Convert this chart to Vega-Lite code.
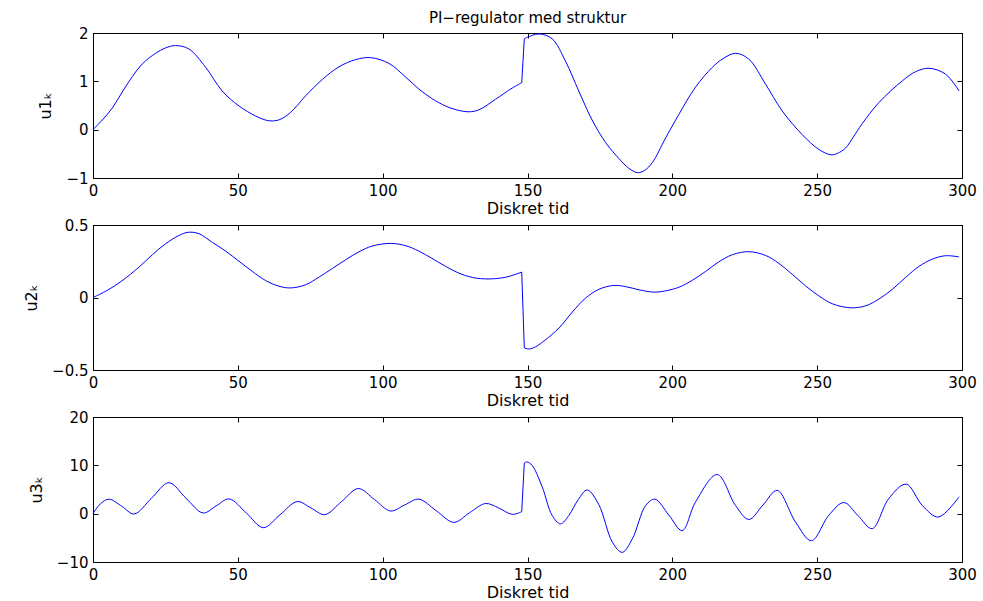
{
  "$schema": "https://vega.github.io/schema/vega-lite/v6.json",
  "background": "white",
  "padding": {"left": 23, "top": 10, "right": 5, "bottom": 0},
  "bounds": "flush",
  "spacing": 47,
  "config": {
    "font": "DejaVu Sans",
    "view": {"stroke": "black", "strokeWidth": 1},
    "axis": {
      "grid": false, "domain": false, "ticks": true, "tickColor": "black", "tickSize": -5, "tickWidth": 1,
      "labelPadding": 10, "labelFontSize": 15, "labelColor": "black", "labelFlush": false, "labelOverlap": false,
      "titleFontSize": 16, "titleFontWeight": "normal", "titleColor": "black"
    }
  },
  "datasets": {
    "u1": [
      {"s":1,"t":0,"v":0},{"s":1,"t":3.2,"v":0.2},{"s":1,"t":6.7,"v":0.45},{"s":1,"t":10.1,"v":0.78},{"s":1,"t":13.6,"v":1.1},{"s":1,"t":17,"v":1.36},{"s":1,"t":21.6,"v":1.58},{"s":1,"t":25,"v":1.69},{"s":1,"t":28.5,"v":1.74},{"s":1,"t":33.1,"v":1.67},{"s":1,"t":38.9,"v":1.29},{"s":1,"t":44.6,"v":0.8},{"s":1,"t":50.4,"v":0.49},{"s":1,"t":56.2,"v":0.28},{"s":1,"t":59.5,"v":0.2},{"s":1,"t":61.9,"v":0.18},{"s":1,"t":64.5,"v":0.21},{"s":1,"t":67.7,"v":0.33},{"s":1,"t":70.5,"v":0.5},{"s":1,"t":73.4,"v":0.7},{"s":1,"t":79.2,"v":1.04},{"s":1,"t":84.9,"v":1.3},{"s":1,"t":90.7,"v":1.45},{"s":1,"t":95.9,"v":1.49},{"s":1,"t":102.2,"v":1.37},{"s":1,"t":107.9,"v":1.09},{"s":1,"t":112.5,"v":0.84},{"s":1,"t":117.1,"v":0.64},{"s":1,"t":121.7,"v":0.49},{"s":1,"t":125.5,"v":0.41},{"s":1,"t":129.8,"v":0.37},{"s":1,"t":133.2,"v":0.41},{"s":1,"t":139,"v":0.63},{"s":1,"t":144.7,"v":0.86},{"s":1,"t":148,"v":0.97},
      {"s":2,"t":148,"v":0.97},{"s":2,"t":148.9,"v":1.88},
      {"s":3,"t":148.9,"v":1.88},{"s":3,"t":149.9,"v":1.91},{"s":3,"t":154,"v":1.98},{"s":3,"t":158.5,"v":1.88},{"s":3,"t":163.1,"v":1.42},{"s":3,"t":167.7,"v":0.8},{"s":3,"t":172.3,"v":0.2},{"s":3,"t":177,"v":-0.27},{"s":3,"t":181.6,"v":-0.6},{"s":3,"t":185,"v":-0.8},{"s":3,"t":188,"v":-0.89},{"s":3,"t":190.5,"v":-0.84},{"s":3,"t":193.1,"v":-0.68},{"s":3,"t":197.7,"v":-0.17},{"s":3,"t":202.3,"v":0.32},{"s":3,"t":208,"v":0.88},{"s":3,"t":213.8,"v":1.29},{"s":3,"t":217.5,"v":1.47},{"s":3,"t":221.8,"v":1.58},{"s":3,"t":226.4,"v":1.46},{"s":3,"t":232.2,"v":0.94},{"s":3,"t":237.9,"v":0.39},{"s":3,"t":244.8,"v":-0.1},{"s":3,"t":250.6,"v":-0.41},{"s":3,"t":254.8,"v":-0.52},{"s":3,"t":257,"v":-0.49},{"s":3,"t":259.8,"v":-0.38},{"s":3,"t":262.5,"v":-0.15},{"s":3,"t":265.5,"v":0.12},{"s":3,"t":271.3,"v":0.56},{"s":3,"t":279.4,"v":1.01},{"s":3,"t":284,"v":1.2},{"s":3,"t":288.6,"v":1.27},{"s":3,"t":294.3,"v":1.15},{"s":3,"t":299,"v":0.8}
    ],
    "u2": [
      {"s":1,"t":0,"v":0},{"s":1,"t":5,"v":0.05},{"s":1,"t":10,"v":0.115},{"s":1,"t":15.9,"v":0.21},{"s":1,"t":20.5,"v":0.295},{"s":1,"t":25,"v":0.37},{"s":1,"t":29.7,"v":0.428},{"s":1,"t":32.9,"v":0.45},{"s":1,"t":36.6,"v":0.44},{"s":1,"t":41.2,"v":0.38},{"s":1,"t":45.8,"v":0.32},{"s":1,"t":50.4,"v":0.25},{"s":1,"t":55,"v":0.18},{"s":1,"t":59.6,"v":0.117},{"s":1,"t":64.2,"v":0.078},{"s":1,"t":68.2,"v":0.066},{"s":1,"t":73.4,"v":0.088},{"s":1,"t":78,"v":0.14},{"s":1,"t":82.6,"v":0.2},{"s":1,"t":87.2,"v":0.26},{"s":1,"t":91.8,"v":0.315},{"s":1,"t":96.4,"v":0.355},{"s":1,"t":102.8,"v":0.373},{"s":1,"t":108,"v":0.357},{"s":1,"t":112.5,"v":0.32},{"s":1,"t":117,"v":0.27},{"s":1,"t":121.7,"v":0.215},{"s":1,"t":126.3,"v":0.168},{"s":1,"t":131,"v":0.138},{"s":1,"t":136.7,"v":0.128},{"s":1,"t":142.5,"v":0.14},{"s":1,"t":148,"v":0.175},
      {"s":2,"t":148,"v":0.175},{"s":2,"t":148.9,"v":-0.348},
      {"s":3,"t":148.9,"v":-0.348},{"s":3,"t":150.5,"v":-0.355},{"s":3,"t":152.8,"v":-0.34},{"s":3,"t":156,"v":-0.295},{"s":3,"t":160.9,"v":-0.21},{"s":3,"t":165.5,"v":-0.1},{"s":3,"t":170,"v":-0.005},{"s":3,"t":174.7,"v":0.057},{"s":3,"t":179.8,"v":0.083},{"s":3,"t":183.9,"v":0.075},{"s":3,"t":188.5,"v":0.053},{"s":3,"t":193.7,"v":0.037},{"s":3,"t":197.7,"v":0.046},{"s":3,"t":202.3,"v":0.071},{"s":3,"t":207,"v":0.12},{"s":3,"t":211.5,"v":0.18},{"s":3,"t":216,"v":0.245},{"s":3,"t":220.7,"v":0.295},{"s":3,"t":226.4,"v":0.316},{"s":3,"t":232.2,"v":0.29},{"s":3,"t":236.8,"v":0.235},{"s":3,"t":241.4,"v":0.16},{"s":3,"t":246,"v":0.08},{"s":3,"t":250.6,"v":0.011},{"s":3,"t":255.2,"v":-0.043},{"s":3,"t":261.6,"v":-0.071},{"s":3,"t":266.8,"v":-0.057},{"s":3,"t":271.3,"v":-0.011},{"s":3,"t":276,"v":0.057},{"s":3,"t":280.6,"v":0.14},{"s":3,"t":285.2,"v":0.215},{"s":3,"t":289.8,"v":0.265},{"s":3,"t":294.3,"v":0.288},{"s":3,"t":299,"v":0.28}
    ],
    "u3": [
      {"s":1,"t":0,"v":0},{"s":1,"t":2.5,"v":2.0},{"s":1,"t":5.5,"v":3.0},{"s":1,"t":10,"v":1.5},{"s":1,"t":14.2,"v":-0.07},{"s":1,"t":20.2,"v":3.2},{"s":1,"t":26.2,"v":6.4},{"s":1,"t":32.1,"v":3.2},{"s":1,"t":38,"v":0.14},{"s":1,"t":42.5,"v":1.6},{"s":1,"t":47,"v":3.05},{"s":1,"t":53,"v":0.1},{"s":1,"t":58.8,"v":-2.9},{"s":1,"t":64.6,"v":-0.2},{"s":1,"t":70.5,"v":2.5},{"s":1,"t":75.2,"v":1.2},{"s":1,"t":80,"v":-0.2},{"s":1,"t":85.8,"v":2.5},{"s":1,"t":91.6,"v":5.2},{"s":1,"t":97.2,"v":2.9},{"s":1,"t":102.7,"v":0.55},{"s":1,"t":107.6,"v":1.8},{"s":1,"t":112.5,"v":3.0},{"s":1,"t":118.5,"v":0.6},{"s":1,"t":124.6,"v":-1.8},{"s":1,"t":130,"v":0.2},{"s":1,"t":135.5,"v":2.1},{"s":1,"t":140,"v":1.2},{"s":1,"t":144.7,"v":-0.14},{"s":1,"t":148,"v":0.4},
      {"s":2,"t":148,"v":0.4},{"s":2,"t":148.9,"v":10.5},
      {"s":3,"t":148.9,"v":10.5},{"s":3,"t":149.9,"v":10.7},{"s":3,"t":151.6,"v":10.0},{"s":3,"t":155.1,"v":5.5},{"s":3,"t":158.5,"v":-0.35},{"s":3,"t":161.4,"v":-2.1},{"s":3,"t":164.3,"v":-0.35},{"s":3,"t":167.5,"v":2.9},{"s":3,"t":170.6,"v":4.9},{"s":3,"t":174.6,"v":1.9},{"s":3,"t":179.3,"v":-5.9},{"s":3,"t":182.7,"v":-8.0},{"s":3,"t":186.2,"v":-5.2},{"s":3,"t":190.8,"v":1.7},{"s":3,"t":194,"v":3.0},{"s":3,"t":198.8,"v":-0.3},{"s":3,"t":203.4,"v":-3.5},{"s":3,"t":208,"v":2.4},{"s":3,"t":215.5,"v":8.1},{"s":3,"t":221.8,"v":1.7},{"s":3,"t":226.4,"v":-1.2},{"s":3,"t":231.3,"v":1.8},{"s":3,"t":236.2,"v":4.8},{"s":3,"t":242.5,"v":-1.7},{"s":3,"t":248,"v":-5.6},{"s":3,"t":254,"v":-0.35},{"s":3,"t":259.2,"v":2.3},{"s":3,"t":264.1,"v":-0.4},{"s":3,"t":269,"v":-3.1},{"s":3,"t":274.7,"v":3.1},{"s":3,"t":280.7,"v":6.1},{"s":3,"t":286.3,"v":1.7},{"s":3,"t":291.8,"v":-0.7},{"s":3,"t":299,"v":3.5}
    ]
  },
  "vconcat": [
    {
      "width": 869, "height": 145,
      "title": {"text": "PI−regulator med struktur", "frame": "group", "anchor": "middle", "fontSize": 15, "fontWeight": "normal", "color": "black", "offset": 0},
      "data": {"name": "u1"},
      "layer": [
        {
          "mark": {"type": "line", "color": "#0000ff", "strokeWidth": 1, "interpolate": "catmull-rom"},
          "encoding": {
            "x": {"field": "t", "type": "quantitative", "scale": {"domain": [0, 300], "nice": false, "zero": false}, "axis": {"values": [0, 50, 100, 150, 200, 250, 300], "title": "Diskret tid", "titlePadding": 2}},
            "y": {"field": "v", "type": "quantitative", "scale": {"domain": [-1, 2], "nice": false, "zero": false}, "axis": {"values": [-1, 0, 1, 2], "format": "d", "title": "u1ₖ", "titlePadding": 12}},
            "detail": {"field": "s", "type": "nominal"}
          }
        },
        {
          "mark": {"type": "line", "strokeOpacity": 0},
          "encoding": {
            "x": {"field": "t", "type": "quantitative", "axis": {"orient": "top", "values": [0, 50, 100, 150, 200, 250, 300], "labels": false, "title": null}},
            "y": {"field": "v", "type": "quantitative", "axis": {"orient": "right", "values": [-1, 0, 1, 2], "labels": false, "title": null}}
          }
        }
      ],
      "resolve": {"axis": {"x": "independent", "y": "independent"}}
    },
    {
      "width": 869, "height": 145,
      "data": {"name": "u2"},
      "layer": [
        {
          "mark": {"type": "line", "color": "#0000ff", "strokeWidth": 1, "interpolate": "catmull-rom"},
          "encoding": {
            "x": {"field": "t", "type": "quantitative", "scale": {"domain": [0, 300], "nice": false, "zero": false}, "axis": {"values": [0, 50, 100, 150, 200, 250, 300], "title": "Diskret tid", "titlePadding": 2}},
            "y": {"field": "v", "type": "quantitative", "scale": {"domain": [-0.5, 0.5], "nice": false, "zero": false}, "axis": {"values": [-0.5, 0, 0.5], "format": "~g", "title": "u2ₖ", "titlePadding": 12}},
            "detail": {"field": "s", "type": "nominal"}
          }
        },
        {
          "mark": {"type": "line", "strokeOpacity": 0},
          "encoding": {
            "x": {"field": "t", "type": "quantitative", "axis": {"orient": "top", "values": [0, 50, 100, 150, 200, 250, 300], "labels": false, "title": null}},
            "y": {"field": "v", "type": "quantitative", "axis": {"orient": "right", "values": [-0.5, 0, 0.5], "labels": false, "title": null}}
          }
        }
      ],
      "resolve": {"axis": {"x": "independent", "y": "independent"}}
    },
    {
      "width": 869, "height": 145,
      "data": {"name": "u3"},
      "layer": [
        {
          "mark": {"type": "line", "color": "#0000ff", "strokeWidth": 1, "interpolate": "catmull-rom"},
          "encoding": {
            "x": {"field": "t", "type": "quantitative", "scale": {"domain": [0, 300], "nice": false, "zero": false}, "axis": {"values": [0, 50, 100, 150, 200, 250, 300], "title": "Diskret tid", "titlePadding": 2}},
            "y": {"field": "v", "type": "quantitative", "scale": {"domain": [-10, 20], "nice": false, "zero": false}, "axis": {"values": [-10, 0, 10, 20], "format": "d", "title": "u3ₖ", "titlePadding": 12}},
            "detail": {"field": "s", "type": "nominal"}
          }
        },
        {
          "mark": {"type": "line", "strokeOpacity": 0},
          "encoding": {
            "x": {"field": "t", "type": "quantitative", "axis": {"orient": "top", "values": [0, 50, 100, 150, 200, 250, 300], "labels": false, "title": null}},
            "y": {"field": "v", "type": "quantitative", "axis": {"orient": "right", "values": [-10, 0, 10, 20], "labels": false, "title": null}}
          }
        }
      ],
      "resolve": {"axis": {"x": "independent", "y": "independent"}}
    }
  ]
}
